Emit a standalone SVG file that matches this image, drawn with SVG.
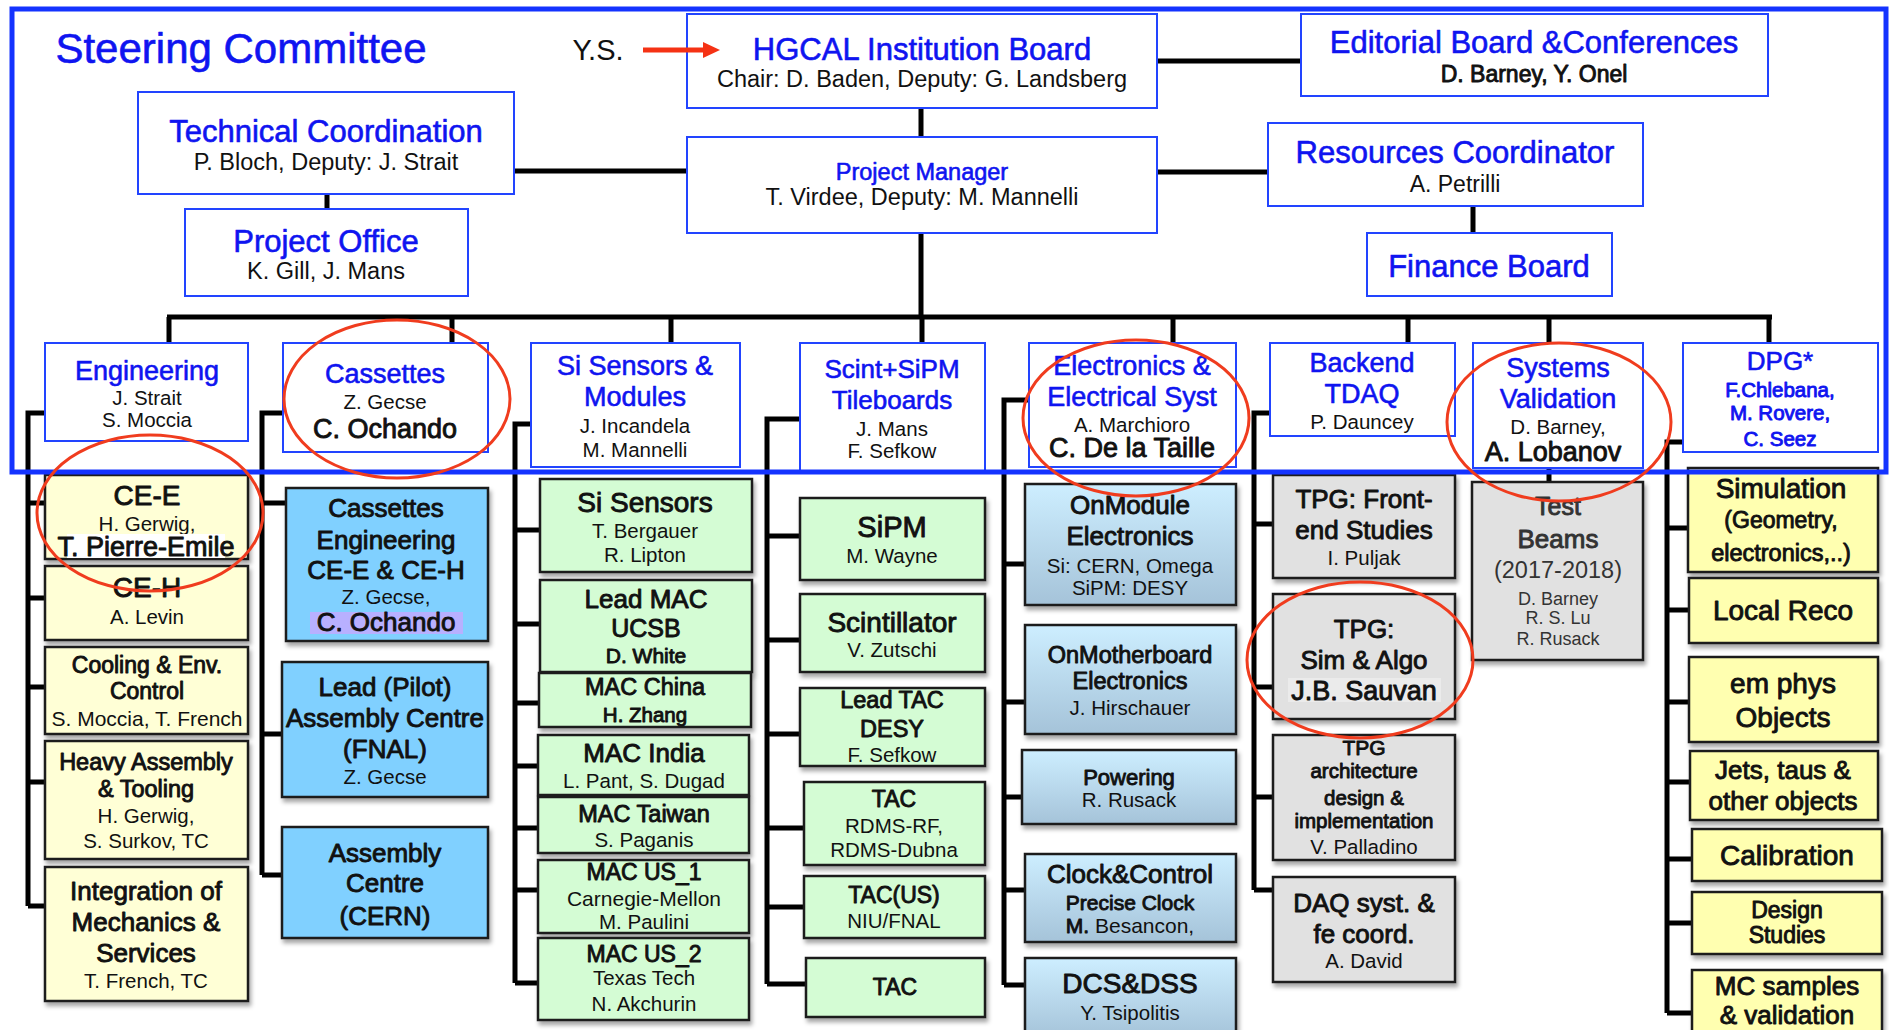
<svg xmlns="http://www.w3.org/2000/svg" width="1889" height="1030" viewBox="0 0 1889 1030">
<defs>
<filter id="sh" x="-6%" y="-6%" width="116%" height="125%"><feDropShadow dx="2" dy="4" stdDeviation="2" flood-color="#000" flood-opacity="0.35"/></filter>
<linearGradient id="ge" x1="0" y1="0" x2="0" y2="1"><stop offset="0" stop-color="#cdeeff"/><stop offset="1" stop-color="#a5c3d9"/></linearGradient>
<style>
text{font-family:"Liberation Sans",Arial,Helvetica,sans-serif;text-anchor:middle}
.hb{fill:#fff;stroke:#2244ff;stroke-width:2}
.cb{stroke:#1a1a1a;stroke-width:2.5;filter:url(#sh)}
.cy{fill:#ffffd6}.cc{fill:#80d0ff}.cg{fill:#d4fcd4}.ce{fill:url(#ge)}.cr{fill:#e1e1e1}.cd{fill:#ffffb0}
.b{fill:#0f14f0}.bs{fill:#0f14f0;stroke:#0f14f0;stroke-width:0.6;stroke-linejoin:round}
.bk{fill:#0f14f0;stroke:#0f14f0;stroke-width:0.9;stroke-linejoin:round}
.k{fill:#111}.ks{fill:#111;stroke:#111;stroke-width:0.9;stroke-linejoin:round}
.g{fill:#333}.gs{fill:#333;stroke:#333;stroke-width:0.9;stroke-linejoin:round}
.z18{font-size:18px}.z20{font-size:20.5px}.z21{font-size:21px}.z22{font-size:22px}.z23{font-size:23px}.z235{font-size:23.5px}
.z25{font-size:25px}.z26{font-size:26px}.z27{font-size:27px}.z28{font-size:28px}.z29{font-size:29px}.z31{font-size:31px}.z42{font-size:42px}
.cn{fill:none;stroke:#000;stroke-width:5;stroke-linecap:butt;stroke-linejoin:miter}
.el{fill:none;stroke:#f03c1e;stroke-width:3}
</style>
</defs>
<rect width="1889" height="1030" fill="#fff"/>

<g id="connectors" class="cn">
<path d="M921,108V137M1157,61H1301M514,171H687M327,194V209M1157,172H1268M1473,206V233M921,233V317"/>
<path d="M167,317H1772M169,317V343M452,317V343M671,317V343M922,317V343M1173,317V343M1408,317V343M1549,317V343M1769,317V343M1549,468V482"/>
<path d="M45,413H28V906M28,503H45M28,598H45M28,687H45M28,782H45M28,906H45"/>
<path d="M283,413H262V875M262,503H286M262,734H282M262,875H282"/>
<path d="M531,424H515V983M515,530H540M515,624H540M515,703H539M515,766H538M515,828H538M515,890H538M515,983H538"/>
<path d="M800,419H767V984M767,536H800M767,640H800M767,734H800M767,828H804M767,907H804M767,984H806"/>
<path d="M1029,400H1004V985M1004,564H1025M1004,702H1025M1004,797H1022M1004,890H1025M1004,985H1025"/>
<path d="M1270,413H1254V890M1254,524H1273M1254,687H1273M1254,797H1273M1254,890H1273"/>
<path d="M1683,442H1667V1013M1667,528H1688M1667,610H1689M1667,702H1689M1667,782H1690M1667,859H1692M1667,923H1692M1667,1013H1692"/>
</g>

<g id="hgcal-ib"><rect class="hb" x="687" y="14" width="470" height="94"/>
<text class="bs z31" x="922" y="60">HGCAL Institution Board</text>
<text class="k z235" x="922" y="87">Chair: D. Baden, Deputy: G. Landsberg</text></g>
<g id="editorial"><rect class="hb" x="1301" y="14" width="467" height="82"/>
<text class="bs z31" x="1534" y="53">Editorial Board &amp;Conferences</text>
<text class="ks z23" x="1534" y="82">D. Barney, Y. Onel</text></g>
<g id="tech-coord"><rect class="hb" x="138" y="92" width="376" height="102"/>
<text class="bs z31" x="326" y="142">Technical Coordination</text>
<text class="k z235" x="326" y="170">P. Bloch, Deputy: J. Strait</text></g>
<g id="project-manager"><rect class="hb" x="687" y="137" width="470" height="96"/>
<text class="bs z235" x="922" y="180">Project Manager</text>
<text class="k z235" x="922" y="205">T. Virdee, Deputy: M. Mannelli</text></g>
<g id="resources"><rect class="hb" x="1268" y="123" width="375" height="83"/>
<text class="bs z31" x="1455" y="163">Resources Coordinator</text>
<text class="k z23" x="1455" y="192">A. Petrilli</text></g>
<g id="project-office"><rect class="hb" x="185" y="209" width="283" height="87"/>
<text class="bs z31" x="326" y="252">Project Office</text>
<text class="k z235" x="326" y="279">K. Gill, J. Mans</text></g>
<g id="finance"><rect class="hb" x="1367" y="233" width="245" height="63"/>
<text class="bs z31" x="1489" y="277">Finance Board</text></g>

<g id="engineering"><rect class="hb" x="45" y="343" width="203" height="98"/>
<text class="bs z27" x="147" y="380">Engineering</text>
<text class="k z20" x="147" y="405">J. Strait</text><text class="k z20" x="147" y="427">S. Moccia</text></g>
<g id="cassettes"><rect class="hb" x="283" y="343" width="205" height="109"/>
<text class="bs z27" x="385" y="383">Cassettes</text>
<text class="k z20" x="385" y="409">Z. Gecse</text><text class="ks z27" x="385" y="438">C. Ochando</text></g>
<g id="si-sensors-modules"><rect class="hb" x="531" y="343" width="209" height="124"/>
<text class="bs z27" x="635" y="375">Si Sensors &amp;</text><text class="bs z27" x="635" y="406">Modules</text>
<text class="k z20" x="635" y="433">J. Incandela</text><text class="k z20" x="635" y="457">M. Mannelli</text></g>
<g id="scint-sipm"><rect class="hb" x="800" y="343" width="185" height="128"/>
<text class="bs z26" x="892" y="378">Scint+SiPM</text><text class="bs z26" x="892" y="409">Tileboards</text>
<text class="k z20" x="892" y="436">J. Mans</text><text class="k z20" x="892" y="458">F. Sefkow</text></g>
<g id="electronics"><rect class="hb" x="1029" y="343" width="207" height="124"/>
<text class="bs z27" x="1132" y="375">Electronics &amp;</text><text class="bs z27" x="1132" y="406">Electrical Syst</text>
<text class="k z20" x="1132" y="432">A. Marchioro</text><text class="ks z27" x="1132" y="457">C. De la Taille</text></g>
<g id="backend-tdaq"><rect class="hb" x="1270" y="343" width="185" height="93"/>
<text class="bs z27" x="1362" y="372">Backend</text><text class="bs z27" x="1362" y="403">TDAQ</text>
<text class="k z20" x="1362" y="429">P. Dauncey</text></g>
<g id="systems-validation"><rect class="hb" x="1473" y="343" width="170" height="125"/>
<text class="bs z27" x="1558" y="377">Systems</text><text class="bs z27" x="1558" y="408">Validation</text>
<text class="k z20" x="1558" y="434">D. Barney,</text><text class="ks z27" x="1553" y="461">A. Lobanov</text></g>
<g id="dpg"><rect class="hb" x="1683" y="343" width="195" height="109"/>
<text class="bs z26" x="1780" y="370">DPG*</text>
<text class="bk z20" x="1780" y="397">F.Chlebana,</text><text class="bk z20" x="1780" y="420">M. Rovere,</text><text class="bk z20" x="1780" y="446">C. Seez</text></g>

<g id="ce-e"><rect class="cb cy" x="45" y="475" width="203" height="84"/>
<text class="ks z28" x="147" y="505">CE-E</text><text class="k z20" x="147" y="531">H. Gerwig,</text>
<rect x="67" y="534" width="158" height="24" fill="#fff"/><text class="ks z27" x="146" y="556">T. Pierre-Emile</text></g>
<g id="ce-h"><rect class="cb cy" x="45" y="566" width="203" height="74"/>
<text class="ks z28" x="147" y="597">CE-H</text><text class="k z20" x="147" y="624">A. Levin</text></g>
<g id="cooling"><rect class="cb cy" x="45" y="647" width="203" height="87"/>
<text class="ks z23" x="147" y="673">Cooling &amp; Env.</text><text class="ks z23" x="147" y="699">Control</text>
<text class="k z21" x="147" y="726">S. Moccia, T. French</text></g>
<g id="heavy-assembly"><rect class="cb cy" x="45" y="741" width="203" height="118"/>
<text class="ks z235" x="146" y="770">Heavy Assembly</text><text class="ks z235" x="146" y="797">&amp; Tooling</text>
<text class="k z20" x="146" y="823">H. Gerwig,</text><text class="k z20" x="146" y="848">S. Surkov, TC</text></g>
<g id="integration"><rect class="cb cy" x="45" y="867" width="203" height="134"/>
<text class="ks z26" x="146" y="900">Integration of</text><text class="ks z26" x="146" y="931">Mechanics &amp;</text>
<text class="ks z26" x="146" y="962">Services</text><text class="k z20" x="146" y="988">T. French, TC</text></g>

<g id="cassettes-eng"><rect class="cb cc" x="286" y="488" width="202" height="153"/>
<text class="ks z26" x="386" y="517">Cassettes</text><text class="ks z26" x="386" y="549">Engineering</text>
<text class="ks z26" x="386" y="579">CE-E &amp; CE-H</text><text class="k z20" x="386" y="604">Z. Gecse,</text>
<rect x="310" y="612" width="153" height="22" fill="#b8b0ff"/><text class="ks z26" x="386" y="631">C. Ochando</text></g>
<g id="lead-assembly"><rect class="cb cc" x="282" y="662" width="206" height="135"/>
<text class="ks z26" x="385" y="696">Lead (Pilot)</text><text class="ks z26" x="385" y="727">Assembly Centre</text>
<text class="ks z26" x="385" y="758">(FNAL)</text><text class="k z20" x="385" y="784">Z. Gecse</text></g>
<g id="assembly-cern"><rect class="cb cc" x="282" y="827" width="206" height="111"/>
<text class="ks z26" x="385" y="862">Assembly</text><text class="ks z26" x="385" y="892">Centre</text><text class="ks z26" x="385" y="925">(CERN)</text></g>

<g id="si-sensors"><rect class="cb cg" x="540" y="479" width="212" height="93"/>
<text class="ks z28" x="645" y="512">Si Sensors</text><text class="k z20" x="645" y="538">T. Bergauer</text><text class="k z20" x="645" y="562">R. Lipton</text></g>
<g id="lead-mac"><rect class="cb cg" x="540" y="580" width="212" height="92"/>
<text class="ks z26" x="646" y="608">Lead MAC</text><text class="ks z25" x="646" y="637">UCSB</text><text class="ks z21" x="646" y="663">D. White</text></g>
<g id="mac-china"><rect class="cb cg" x="539" y="673" width="212" height="54"/>
<text class="ks z235" x="645" y="695">MAC China</text><text class="ks z20" x="645" y="722">H. Zhang</text></g>
<g id="mac-india"><rect class="cb cg" x="538" y="735" width="211" height="60"/>
<text class="ks z26" x="644" y="762">MAC India</text><text class="k z20" x="644" y="788">L. Pant, S. Dugad</text></g>
<g id="mac-taiwan"><rect class="cb cg" x="538" y="797" width="211" height="56"/>
<text class="ks z235" x="644" y="822">MAC Taiwan</text><text class="k z20" x="644" y="847">S. Paganis</text></g>
<g id="mac-us1"><rect class="cb cg" x="538" y="860" width="211" height="73"/>
<text class="ks z23" x="644" y="880">MAC US_1</text><text class="k z21" x="644" y="906">Carnegie-Mellon</text><text class="k z20" x="644" y="929">M. Paulini</text></g>
<g id="mac-us2"><rect class="cb cg" x="538" y="938" width="211" height="82"/>
<text class="ks z23" x="644" y="962">MAC US_2</text><text class="k z20" x="644" y="985">Texas Tech</text><text class="k z20" x="644" y="1011">N. Akchurin</text></g>

<g id="sipm"><rect class="cb cg" x="800" y="498" width="185" height="82"/>
<text class="ks z29" x="892" y="537">SiPM</text><text class="k z20" x="892" y="563">M. Wayne</text></g>
<g id="scintillator"><rect class="cb cg" x="800" y="594" width="185" height="78"/>
<text class="ks z28" x="892" y="632">Scintillator</text><text class="k z20" x="892" y="657">V. Zutschi</text></g>
<g id="lead-tac"><rect class="cb cg" x="800" y="688" width="185" height="78"/>
<text class="ks z235" x="892" y="708">Lead TAC</text><text class="ks z235" x="892" y="737">DESY</text><text class="k z20" x="892" y="762">F. Sefkow</text></g>
<g id="tac-rdms"><rect class="cb cg" x="804" y="782" width="181" height="83"/>
<text class="ks z23" x="894" y="807">TAC</text><text class="k z20" x="894" y="833">RDMS-RF,</text><text class="k z20" x="894" y="857">RDMS-Dubna</text></g>
<g id="tac-us"><rect class="cb cg" x="804" y="876" width="181" height="62"/>
<text class="ks z23" x="894" y="903">TAC(US)</text><text class="k z20" x="894" y="928">NIU/FNAL</text></g>
<g id="tac"><rect class="cb cg" x="806" y="958" width="179" height="59"/>
<text class="ks z23" x="895" y="995">TAC</text></g>

<g id="onmodule"><rect class="cb ce" x="1025" y="484" width="211" height="121"/>
<text class="ks z26" x="1130" y="514">OnModule</text><text class="ks z26" x="1130" y="545">Electronics</text>
<text class="k z20" x="1130" y="573">Si: CERN, Omega</text><text class="k z20" x="1130" y="595">SiPM: DESY</text></g>
<g id="onmotherboard"><rect class="cb ce" x="1025" y="625" width="211" height="109"/>
<text class="ks z235" x="1130" y="663">OnMotherboard</text><text class="ks z235" x="1130" y="689">Electronics</text>
<text class="k z20" x="1130" y="715">J. Hirschauer</text></g>
<g id="powering"><rect class="cb ce" x="1022" y="750" width="214" height="74"/>
<text class="ks z22" x="1129" y="785">Powering</text><text class="k z20" x="1129" y="807">R. Rusack</text></g>
<g id="clock-control"><rect class="cb ce" x="1025" y="854" width="211" height="88"/>
<text class="ks z26" x="1130" y="883">Clock&amp;Control</text><text class="ks z21" x="1130" y="910">Precise Clock</text>
<text class="k z21" x="1130" y="933"><tspan class="ks">M.</tspan> Besancon,</text></g>
<g id="dcs-dss"><rect class="cb ce" x="1025" y="958" width="211" height="80"/>
<text class="ks z28" x="1130" y="993">DCS&amp;DSS</text><text class="k z20" x="1130" y="1020">Y. Tsipolitis</text></g>

<g id="tpg-frontend"><rect class="cb cr" x="1273" y="475" width="182" height="103"/>
<text class="ks z26" x="1364" y="508">TPG: Front-</text><text class="ks z26" x="1364" y="539">end Studies</text><text class="k z20" x="1364" y="565">I. Puljak</text></g>
<g id="tpg-sim"><rect class="cb cr" x="1273" y="594" width="182" height="125"/>
<text class="ks z26" x="1364" y="638">TPG:</text><text class="ks z26" x="1364" y="669">Sim &amp; Algo</text>
<rect x="1288" y="678" width="153" height="24" fill="#ebebeb"/><text class="ks z27" x="1364" y="700">J.B. Sauvan</text></g>
<g id="tpg-arch"><rect class="cb cr" x="1273" y="735" width="182" height="125"/>
<text class="ks z21" x="1364" y="755">TPG</text><text class="ks z20" x="1364" y="778">architecture</text><text class="ks z20" x="1364" y="805">design &amp;</text>
<text class="ks z20" x="1364" y="828">implementation</text><text class="k z20" x="1364" y="854">V. Palladino</text></g>
<g id="daq"><rect class="cb cr" x="1273" y="877" width="182" height="105"/>
<text class="ks z26" x="1364" y="912">DAQ syst. &amp;</text><text class="ks z26" x="1364" y="943">fe coord.</text><text class="k z20" x="1364" y="968">A. David</text></g>

<g id="test-beams"><rect class="cb cr" x="1472" y="482" width="171" height="178"/>
<text class="gs z25" x="1558" y="515">Test</text><text class="gs z26" x="1558" y="548">Beams</text>
<text class="g z235" x="1558" y="578">(2017-2018)</text><text class="g z18" x="1558" y="605">D. Barney</text>
<text class="g z18" x="1558" y="624">R. S. Lu</text><text class="g z18" x="1558" y="645">R. Rusack</text></g>

<g id="simulation"><rect class="cb cd" x="1688" y="468" width="190" height="104"/>
<text class="ks z28" x="1781" y="498">Simulation</text><text class="ks z23" x="1781" y="528">(Geometry,</text><text class="ks z235" x="1781" y="561">electronics,..)</text></g>
<g id="local-reco"><rect class="cb cd" x="1689" y="578" width="189" height="65"/>
<text class="ks z28" x="1783" y="620">Local Reco</text></g>
<g id="em-phys"><rect class="cb cd" x="1689" y="657" width="189" height="85"/>
<text class="ks z28" x="1783" y="693">em phys</text><text class="ks z28" x="1783" y="727">Objects</text></g>
<g id="jets-taus"><rect class="cb cd" x="1690" y="751" width="188" height="69"/>
<text class="ks z26" x="1783" y="779">Jets, taus &amp;</text><text class="ks z26" x="1783" y="810">other objects</text></g>
<g id="calibration"><rect class="cb cd" x="1692" y="829" width="190" height="52"/>
<text class="ks z28" x="1787" y="865">Calibration</text></g>
<g id="design-studies"><rect class="cb cd" x="1692" y="892" width="190" height="62"/>
<text class="ks z23" x="1787" y="918">Design</text><text class="ks z23" x="1787" y="943">Studies</text></g>
<g id="mc-samples"><rect class="cb cd" x="1692" y="970" width="190" height="70"/>
<text class="ks z26" x="1787" y="995">MC samples</text><text class="ks z26" x="1787" y="1024">&amp; validation</text></g>

<g id="steering-committee">
<rect x="12" y="9" width="1874" height="463" fill="none" stroke="#1433ff" stroke-width="5"/>
<text class="bs z42" x="241" y="63">Steering Committee</text></g>

<g id="highlights" class="el">
<ellipse cx="397" cy="399" rx="113" ry="79"/>
<ellipse cx="150" cy="513" rx="113" ry="78"/>
<ellipse cx="1136" cy="418" rx="113" ry="78"/>
<ellipse cx="1360" cy="660" rx="113" ry="78"/>
<ellipse cx="1559" cy="422" rx="112" ry="79"/>
</g>

<g id="ys-arrow">
<text class="k z29" x="598" y="60">Y.S.</text>
<line x1="643" y1="50" x2="705" y2="50" stroke="#f53214" stroke-width="5"/>
<polygon points="720,50 703,42 703,58" fill="#f53214"/>
</g>
</svg>
